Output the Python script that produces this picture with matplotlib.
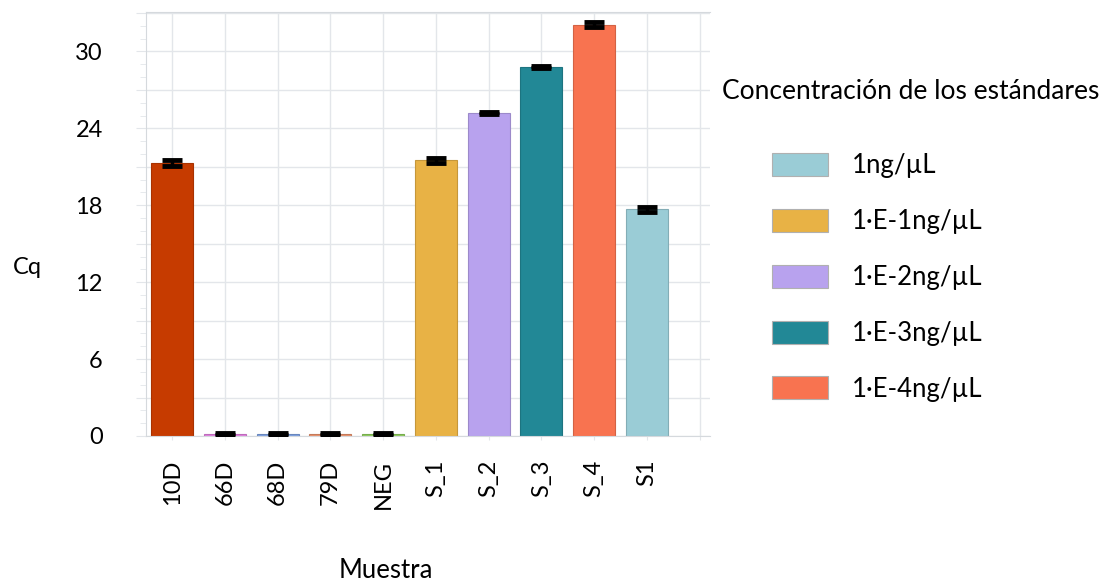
import numpy as np
import matplotlib.pyplot as plt
from matplotlib.ticker import MultipleLocator, FuncFormatter
import matplotlib.colors as mcolors

plt.rcParams['font.family'] = ['Lato', 'DejaVu Sans']

# Cq por muestra
samples = ['10D', '66D', '68D', '79D', 'NEG', 'S_1', 'S_2', 'S_3', 'S_4', 'S1']
cq = [21.3, 0.15, 0.15, 0.15, 0.15, 21.5, 25.2, 28.8, 32.1, 17.7]
cq_err = [0.25, 0.1, 0.1, 0.1, 0.1, 0.2, 0.1, 0.08, 0.2, 0.2]
bar_colors = ['#C63B00', '#E07EDD', '#7C9FE0', '#E8906A', '#8CCB5A',
              '#E8B245', '#B8A2EE', '#228896', '#F87350', '#9ACCD6']

# estandares para la leyenda
std_samples = ['S1', 'S_1', 'S_2', 'S_3', 'S_4']
std_labels = ['1ng/µL', '1·E-1ng/µL', '1·E-2ng/µL', '1·E-3ng/µL', '1·E-4ng/µL']

fs = 17
fs_leg = 18.5
grid_c = '#e3e6ea'

fig = plt.figure(figsize=(11.09, 5.82), dpi=100)
ax = fig.add_axes([0.1314, 0.2509, 0.509, 0.729])

x = np.arange(len(samples))
edge = [tuple(c * 0.85 for c in mcolors.to_rgb(col)) for col in bar_colors]
bars = ax.bar(x, cq, width=0.8, color=bar_colors, edgecolor=edge, linewidth=0.8, zorder=2)
ax.errorbar(x, cq, yerr=cq_err, fmt='none', ecolor='black', elinewidth=2.5,
            capsize=7.5, capthick=3.5, zorder=3)

ax.set_xlim(-0.5, 10.2)
ax.set_ylim(0, 33.1)

ax.set_xticks(np.arange(len(samples) + 1))
ax.set_xticklabels(samples + [''], rotation=90, fontsize=fs)
ax.yaxis.set_major_locator(MultipleLocator(3))
ax.yaxis.set_minor_locator(MultipleLocator(1))
ax.yaxis.set_major_formatter(FuncFormatter(lambda v, p: f"{v:.0f}" if v % 6 == 0 else ""))
ax.tick_params(axis='y', which='major', length=7, color=grid_c, labelsize=fs, pad=24)
ax.tick_params(axis='y', which='minor', length=4, color=grid_c)
ax.tick_params(axis='x', length=3, color=grid_c, pad=14)

ax.grid(True, which='major', color=grid_c, linewidth=1, zorder=0)
ax.set_axisbelow(True)
for s in ['left', 'bottom', 'top']:
    ax.spines[s].set_color('#d5d9dd')
ax.spines['right'].set_visible(False)

ax.set_ylabel('Cq', fontsize=fs, rotation=0, va='center', ha='center')
ax.yaxis.set_label_coords(-0.209, 0.398)
ax.set_xlabel('Muestra', fontsize=fs_leg, va='center')
ax.xaxis.set_label_coords(0.426, -0.318)

handles = [bars[samples.index(s)] for s in std_samples]
fig.text(0.651, 0.842, 'Concentración de los estándares', fontsize=19, va='center', ha='left')
leg = fig.legend(handles, std_labels, loc='upper left', bbox_to_anchor=(0.675, 0.777),
                 frameon=False, fontsize=fs_leg, handlelength=2.2, handleheight=1.0,
                 handletextpad=0.93, labelspacing=1.19)
for p in leg.get_patches():
    p.set_edgecolor('#b0b0b0')

fig.savefig('out.png', dpi=100)
